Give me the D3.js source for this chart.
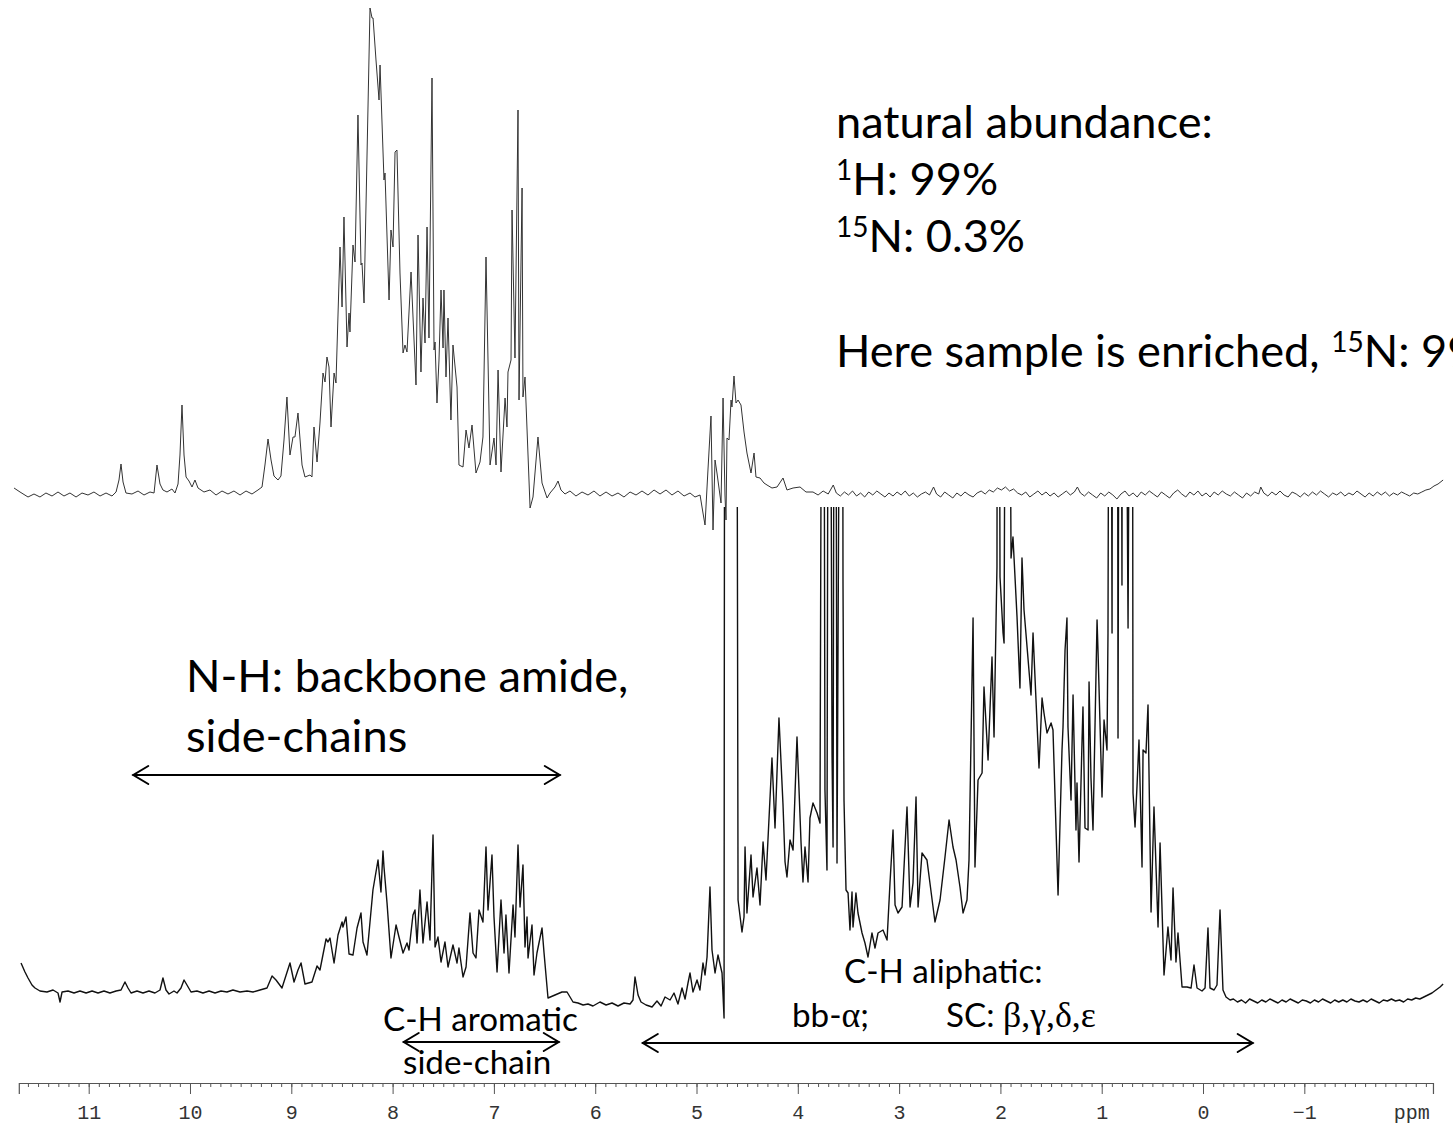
<!DOCTYPE html>
<html><head><meta charset="utf-8">
<script src="https://cdn.jsdelivr.net/npm/d3@7"></script>
<style>body{margin:0;background:#fff;} svg{display:block;}</style>
</head><body>
<svg id="chart" width="1453" height="1125"></svg>
<script>
// ---------- DATA (ppm, intensity a.u.) ----------
// Top trace: 15N-filtered spectrum
const topSpectrum = [
[11.737,7],[11.678,3],[11.599,-2],[11.540,1],[11.481,-2],[11.422,2],[11.362,-1],[11.303,3],[11.244,-1],[11.185,2],[11.125,-2],[11.066,2],[11.007,0],[10.948,3],[10.888,-1],[10.829,2],[10.770,-1],[10.730,3],[10.701,15],[10.681,31],[10.661,13],[10.632,2],[10.573,1],[10.513,4],[10.454,0],[10.395,3],[10.355,2],[10.326,30],[10.296,11],[10.267,5],[10.227,3],[10.178,6],[10.148,2],[10.118,11],[10.099,40],[10.079,90],[10.059,40],[10.039,18],[10.010,14],[9.980,8],[9.951,15],[9.921,7],[9.862,3],[9.803,5],[9.743,0],[9.684,4],[9.625,1],[9.566,4],[9.506,0],[9.447,4],[9.388,1],[9.329,5],[9.289,8],[9.260,30],[9.230,56],[9.200,35],[9.171,19],[9.131,15],[9.102,19],[9.072,55],[9.043,98],[9.013,40],[8.983,58],[8.964,58],[8.934,82],[8.894,30],[8.865,18],[8.815,20],[8.796,18],[8.776,68],[8.746,33],[8.717,72],[8.687,122],[8.667,113],[8.648,138],[8.628,128],[8.608,68],[8.578,122],[8.559,112],[8.519,248],[8.499,188],[8.480,278],[8.450,148],[8.430,182],[8.421,163],[8.391,250],[8.371,233],[8.342,380],[8.312,230],[8.302,232],[8.282,192],[8.223,487],[8.203,477],[8.193,477],[8.164,435],[8.134,395],[8.124,430],[8.085,315],[8.075,322],[8.035,195],[8.016,265],[7.996,248],[7.976,343],[7.957,345],[7.927,222],[7.897,142],[7.878,150],[7.858,143],[7.818,223],[7.769,110],[7.749,260],[7.720,123],[7.700,197],[7.680,152],[7.660,268],[7.641,157],[7.611,417],[7.591,145],[7.581,153],[7.562,92],[7.542,135],[7.522,205],[7.502,147],[7.493,205],[7.473,118],[7.453,177],[7.424,75],[7.404,150],[7.364,108],[7.345,30],[7.305,28],[7.275,65],[7.246,47],[7.216,70],[7.177,22],[7.137,33],[7.108,58],[7.078,238],[7.038,30],[6.999,57],[6.979,30],[6.959,125],[6.930,23],[6.890,97],[6.871,68],[6.861,123],[6.831,135],[6.821,285],[6.792,137],[6.762,385],[6.752,95],[6.722,307],[6.713,98],[6.693,118],[6.643,-13],[6.614,-2],[6.565,58],[6.525,12],[6.475,-3],[6.446,2],[6.397,8],[6.367,14],[6.338,5],[6.298,1],[6.249,4],[6.190,-1],[6.130,3],[6.071,0],[6.012,4],[5.953,-1],[5.893,3],[5.834,-1],[5.775,2],[5.716,-2],[5.656,3],[5.597,0],[5.538,4],[5.479,0],[5.419,5],[5.360,1],[5.301,5],[5.242,0],[5.183,4],[5.123,-1],[5.064,2],[5.015,-2],[4.965,0],[4.936,-18],[4.916,-30],[4.887,25],[4.857,79],[4.837,-35],[4.817,35],[4.798,22],[4.758,-8],[4.738,97],[4.719,0],[4.709,-25],[4.699,57],[4.679,55],[4.659,95],[4.650,88],[4.630,119],[4.610,92],[4.590,95],[4.561,90],[4.531,63],[4.502,42],[4.462,22],[4.432,42],[4.413,18],[4.373,17],[4.334,12],[4.304,10],[4.255,7],[4.205,8],[4.146,17],[4.107,5],[4.047,7],[3.978,8],[3.919,3],
[3.85,3],[3.80,0],[3.75,4],[3.70,1],[3.65,10],[3.62,2],[3.58,-1],[3.54,3],[3.50,0],[3.46,4],[3.42,-1],[3.38,2],[3.34,-2],[3.30,3],[3.26,0],[3.22,4],[3.18,1],[3.14,-2],[3.10,2],[3.06,-1],[3.02,3],[2.98,0],[2.94,4],[2.90,-1],[2.86,2],[2.82,-2],[2.78,1],[2.74,3],[2.70,0],[2.66,8],[2.63,1],[2.59,-2],[2.55,3],[2.51,0],[2.47,-3],[2.43,2],[2.39,-1],[2.35,3],[2.31,0],[2.27,-2],[2.23,2],[2.19,4],[2.15,1],[2.11,5],[2.07,3],[2.03,7],[1.99,5],[1.95,8],[1.91,4],[1.87,6],[1.83,2],[1.79,0],[1.75,3],[1.71,-2],[1.67,1],[1.63,4],[1.59,0],[1.55,3],[1.51,-1],[1.47,2],[1.43,-2],[1.39,1],[1.35,4],[1.31,0],[1.27,3],[1.24,8],[1.21,2],[1.17,-1],[1.13,3],[1.09,0],[1.05,-3],[1.01,2],[0.97,-1],[0.93,3],[0.89,0],[0.85,-4],[0.81,1],[0.77,4],[0.73,-1],[0.69,2],[0.65,-2],[0.61,3],[0.57,0],[0.53,4],[0.49,1],[0.45,-2],[0.41,3],[0.37,0],[0.33,-3],[0.29,2],[0.25,5],[0.21,1],[0.17,-2],[0.13,3],[0.09,0],[0.05,4],[0.01,-1],[-0.03,2],[-0.07,-2],[-0.11,3],[-0.15,0],[-0.19,4],[-0.23,1],[-0.27,-1],[-0.31,3],[-0.35,0],[-0.39,-3],[-0.43,2],[-0.47,-1],[-0.51,3],[-0.55,1],[-0.57,8],[-0.60,2],[-0.64,-1],[-0.68,3],[-0.72,0],[-0.76,4],[-0.80,0],[-0.84,-2],[-0.88,3],[-0.92,1],[-0.96,-2],[-1.00,2],[-1.04,-1],[-1.08,3],[-1.12,0],[-1.16,4],[-1.20,1],[-1.24,-2],[-1.28,2],[-1.32,0],[-1.36,3],[-1.40,-1],[-1.44,2],[-1.48,0],[-1.52,4],[-1.56,1],[-1.60,-2],[-1.64,2],[-1.68,-1],[-1.72,3],[-1.76,0],[-1.80,3],[-1.84,-1],[-1.88,2],[-1.92,0],[-1.96,3],[-2.00,1],[-2.04,-1],[-2.08,2],[-2.12,1],[-2.16,3],[-2.20,5],[-2.24,6],[-2.28,9],[-2.32,11],[-2.37,15]
];

// Bottom trace: 1D 1H spectrum (values above the window are clipped)
const bottomSpectrum = [
[11.668,37],[11.629,28],[11.599,22],[11.560,15],[11.530,12],[11.481,9],[11.412,8],[11.352,10],[11.303,7],[11.283,-2],[11.263,8],[11.204,9],[11.145,7],[11.086,9],[11.026,7],[10.967,9],[10.908,7],[10.849,9],[10.790,7],[10.730,9],[10.681,10],[10.642,18],[10.612,12],[10.582,7],[10.523,9],[10.464,7],[10.405,9],[10.346,7],[10.296,10],[10.267,22],[10.237,10],[10.207,6],[10.158,9],[10.128,7],[10.089,12],[10.059,20],[10.030,15],[9.990,8],[9.931,9],[9.872,7],[9.812,9],[9.753,7],[9.694,9],[9.635,8],[9.576,10],[9.506,8],[9.437,9],[9.378,8],[9.309,10],[9.240,12],[9.190,24],[9.151,20],[9.092,12],[9.013,37],[8.973,18],[8.934,30],[8.904,37],[8.865,16],[8.796,18],[8.746,34],[8.717,30],[8.657,61],[8.638,58],[8.618,62],[8.578,37],[8.539,65],[8.499,78],[8.490,73],[8.460,83],[8.430,46],[8.391,45],[8.351,72],[8.312,87],[8.292,58],[8.253,45],[8.194,110],[8.144,140],[8.115,108],[8.095,149],[8.085,133],[8.055,97],[8.016,42],[7.966,75],[7.937,63],[7.897,47],[7.858,57],[7.838,50],[7.799,85],[7.779,90],[7.759,57],[7.730,110],[7.700,57],[7.660,98],[7.631,60],[7.601,165],[7.581,53],[7.552,63],[7.522,38],[7.483,58],[7.453,33],[7.404,55],[7.364,37],[7.345,52],[7.305,23],[7.275,33],[7.236,87],[7.206,47],[7.177,42],[7.147,90],[7.108,78],[7.078,153],[7.058,90],[7.019,145],[6.999,83],[6.969,28],[6.930,100],[6.900,47],[6.881,85],[6.851,27],[6.811,95],[6.792,63],[6.762,155],[6.742,93],[6.713,135],[6.693,53],[6.673,83],[6.663,42],[6.624,75],[6.604,25],[6.575,47],[6.525,72],[6.505,47],[6.466,2],[6.397,5],[6.328,8],[6.278,8],[6.219,-2],[6.170,-3],[6.120,-5],[6.071,-4],[6.022,-6],[5.953,-2],[5.893,-5],[5.834,-3],[5.775,-6],[5.716,-3],[5.656,-4],[5.627,0],[5.607,23],[5.577,5],[5.548,-2],[5.498,-5],[5.439,-7],[5.390,-1],[5.350,-6],[5.311,3],[5.261,0],[5.222,7],[5.183,-4],[5.143,12],[5.113,1],[5.084,17],[5.064,27],[5.035,8],[4.995,20],[4.966,10],[4.936,37],[4.916,25],[4.896,43],[4.867,113],[4.847,50],[4.817,27],[4.788,45],[4.748,27],[4.728,-18],[4.719,1200],[4.610,1200],[4.590,100],[4.551,68],[4.531,83],[4.521,153],[4.502,87],[4.462,145],[4.442,103],[4.403,132],[4.373,95],[4.343,158],[4.314,120],[4.255,242],[4.225,172],[4.186,282],[4.146,195],[4.126,138],[4.107,123],[4.077,160],[4.047,150],[4.008,263],[3.968,157],[3.949,118],[3.929,153],[3.899,118],[3.880,182],[3.850,197],[3.810,187],[3.781,177],[3.751,1200],[3.732,210],[3.712,130],[3.692,1200],[3.662,245],[3.652,153],[3.633,1200],[3.613,137],[3.564,1200],[3.554,420],[3.544,200],[3.524,110],[3.504,107],[3.485,70],[3.465,108],[3.455,73],[3.426,107],[3.406,87],[3.366,67],[3.337,57],[3.307,43],[3.268,67],[3.238,52],[3.208,67],[3.159,70],[3.119,60],[3.090,117],[3.060,170],[3.040,95],[3.011,87],[2.971,93],[2.922,193],[2.892,93],[2.863,117],[2.833,203],[2.813,93],[2.774,147],[2.725,140],[2.646,78],[2.596,100],[2.547,143],[2.507,180],[2.468,153],[2.438,140],[2.399,113],[2.369,87],[2.330,100],[2.310,140],[2.270,382],[2.251,133],[2.221,220],[2.181,227],[2.162,313],[2.122,240],[2.083,343],[2.063,263],[2.034,433],[2.024,1200],[2.004,423],[1.974,367],[1.964,357],[1.935,1200],[1.895,442],[1.876,463],[1.836,383],[1.807,312],[1.787,442],[1.767,390],[1.698,305],[1.678,367],[1.619,232],[1.589,302],[1.570,287],[1.540,267],[1.500,277],[1.481,270],[1.431,105],[1.392,250],[1.382,273],[1.362,350],[1.343,382],[1.333,273],[1.303,200],[1.283,305],[1.254,170],[1.244,217],[1.224,138],[1.194,260],[1.185,293],[1.165,172],[1.135,170],[1.125,318],[1.106,222],[1.086,170],[1.046,380],[1.036,347],[0.997,203],[0.977,280],[0.948,250],[0.938,367],[0.918,1200],[0.898,367],[0.888,1200],[0.849,1200],[0.839,262],[0.819,1200],[0.800,415],[0.790,1200],[0.740,372],[0.701,1200],[0.691,207],[0.671,173],[0.652,213],[0.632,260],[0.602,133],[0.592,250],[0.563,247],[0.543,295],[0.513,88],[0.484,193],[0.444,73],[0.424,157],[0.385,25],[0.346,73],[0.316,40],[0.296,112],[0.267,38],[0.247,67],[0.207,13],[0.158,13],[0.118,12],[0.089,35],[0.059,12],[0.010,9],[-0.020,12],[-0.049,72],[-0.069,12],[-0.109,10],[-0.138,15],[-0.168,90],[-0.197,10],[-0.227,3],[-0.267,0],
[-0.30,1],[-0.34,-2],[-0.38,0],[-0.42,-3],[-0.46,1],[-0.50,-1],[-0.54,-3],[-0.58,0],[-0.62,-2],[-0.66,1],[-0.70,-1],[-0.74,-3],[-0.78,0],[-0.82,-2],[-0.86,1],[-0.90,-1],[-0.94,-3],[-0.98,0],[-1.02,-1],[-1.06,-3],[-1.10,0],[-1.14,-2],[-1.18,1],[-1.22,-1],[-1.26,-3],[-1.30,0],[-1.34,-2],[-1.38,0],[-1.42,-2],[-1.46,1],[-1.50,-1],[-1.54,-2],[-1.58,0],[-1.62,-2],[-1.66,1],[-1.70,-1],[-1.74,-3],[-1.78,0],[-1.82,-1],[-1.86,1],[-1.90,-1],[-1.94,0],[-1.98,-2],[-2.02,1],[-2.06,0],[-2.10,2],[-2.14,1],[-2.18,3],[-2.22,5],[-2.26,7],[-2.30,10],[-2.34,13],[-2.37,16]
];

const majorTicks = [11,10,9,8,7,6,5,4,3,2,1,0,-1];
const axisUnit = "ppm";

// region arrows [from ppm, to ppm]
const nhRange = [10.56, 6.35];
const aromaticRange = [7.89, 6.36];
const aliphaticRange = [5.53, -0.49];

// ---------- CHART ----------
const svg = d3.select("#chart");
svg.append("rect").attr("width",1453).attr("height",1125).attr("fill","#ffffff");

const x = d3.scaleLinear().domain([11.69, -2.37]).range([18.8, 1443.1]);
const yTop = d3.scaleLinear().domain([0, 487]).range([495, 8]);
const yBot = d3.scaleLinear().domain([0, 493]).range([1000, 507]);

svg.append("defs").append("clipPath").attr("id","botClip")
  .append("rect").attr("x",0).attr("y",yBot(493)).attr("width",1453).attr("height",1125-yBot(493));

const lineTop = d3.line().x(d=>x(d[0])).y(d=>yTop(d[1]));
const lineBot = d3.line().x(d=>x(d[0])).y(d=>yBot(d[1]));

svg.append("path").datum(bottomSpectrum).attr("d",lineBot)
  .attr("clip-path","url(#botClip)")
  .attr("fill","none").attr("stroke","#111").attr("stroke-width",1.4).attr("stroke-linejoin","round");

svg.append("path").datum(topSpectrum).attr("d",lineTop)
  .attr("fill","none").attr("stroke","#333").attr("stroke-width",1).attr("stroke-linejoin","round");

// axis
const xAxisScale = x.copy().domain([11.69,-2.27]).range([x(11.69), x(-2.27)]);
const axisY = 1083;
const minorG = svg.append("g").attr("transform",`translate(0,${axisY})`)
  .call(d3.axisBottom(xAxisScale).tickValues(d3.range(-22,117).map(v=>v/10)).tickSize(4).tickFormat(""));
minorG.select(".domain").remove();
minorG.selectAll("line").attr("stroke","#555");
const majorG = svg.append("g").attr("transform",`translate(0,${axisY})`)
  .call(d3.axisBottom(xAxisScale).tickValues(majorTicks).tickSize(11).tickPadding(11).tickFormat(d3.format("d")));
majorG.select(".domain").attr("stroke","#555").attr("stroke-width",1.2);
majorG.selectAll("line").attr("stroke","#555");
majorG.selectAll("text").attr("font-family","'Liberation Mono', monospace").attr("font-size",20).attr("fill","#333");
svg.append("text").attr("x",x(-2.06)).attr("y",axisY+11+11).attr("dy","0.71em")
  .attr("text-anchor","middle").attr("font-family","'Liberation Mono', monospace").attr("font-size",20).attr("fill","#333").text(axisUnit);

// ---------- annotations ----------
const SANS = "Lato, 'Open Sans', sans-serif";
const SERIF = "'Liberation Serif', 'DejaVu Serif', serif";
function measure(str, fs){
  const t = svg.append("text").attr("font-family",SANS).attr("font-size",fs).text(str);
  const w = t.node().getComputedTextLength(); t.remove(); return w;
}
const bigFS = 40 * 377 / measure("natural abundance:", 40);
const smallFS = 30 * 195 / measure("C-H aromatic", 30);

function addText(parts, px, py, fs){
  const t = svg.append("text").attr("x",px).attr("y",py).attr("font-family",SANS).attr("font-size",fs).attr("fill","#000");
  let shift = 0;
  parts.forEach(p=>{
    const ts = t.append("tspan").text(p.t);
    if (p.sup){ ts.attr("font-size",fs*0.62).attr("dy",-fs*0.33 - shift); shift = -fs*0.33; }
    else if (shift !== 0){ ts.attr("dy",-shift); shift = 0; }
    if (p.serif) ts.attr("font-family",SERIF).attr("font-size",fs*1.08);
  });
  return t;
}
const xl = x(3.623);
addText([{t:"natural abundance:"}], xl, 138, bigFS);
addText([{t:"1",sup:true},{t:"H: 99%"}], xl, 195, bigFS);
addText([{t:"15",sup:true},{t:"N: 0.3%"}], xl, 252, bigFS);
addText([{t:"Here sample is enriched, "},{t:"15",sup:true},{t:"N: 99%"}], xl, 367, bigFS);

addText([{t:"N-H: backbone amide,"}], x(10.039), 692, bigFS);
addText([{t:"side-chains"}], x(10.039), 752, bigFS);

addText([{t:"C-H aromatic"}], x(8.095), 1031, smallFS);
addText([{t:"side-chain"}], x(7.897), 1074, smallFS);
addText([{t:"C-H aliphatic:"}], x(3.544), 983, smallFS);
addText([{t:"bb-"},{t:"α",serif:true},{t:";"}], x(4.057), 1027, smallFS);
addText([{t:"SC: "},{t:"β,γ,δ,ε",serif:true}], x(2.537), 1027, smallFS);

// double-headed arrows
function arrow(range, py){
  const x1 = x(range[0]), x2 = x(range[1]);
  const g = svg.append("g").attr("fill","none").attr("stroke","#000").attr("stroke-width",2).attr("stroke-linecap","round");
  g.append("line").attr("x1",x1).attr("x2",x2).attr("y1",py).attr("y2",py);
  g.append("path").attr("d",`M${x1+15},${py-9}L${x1},${py}L${x1+15},${py+9}`);
  g.append("path").attr("d",`M${x2-15},${py-9}L${x2},${py}L${x2-15},${py+9}`);
}
arrow(nhRange, 775);
arrow(aromaticRange, 1042);
arrow(aliphaticRange, 1043);
</script>
</body></html>
